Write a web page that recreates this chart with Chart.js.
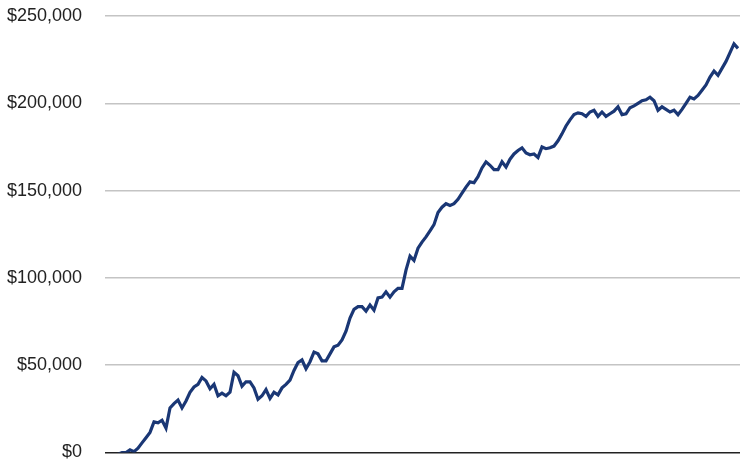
<!DOCTYPE html>
<html>
<head>
<meta charset="utf-8">
<script src="https://cdn.jsdelivr.net/npm/chart.js@4"></script>
<style>
  html, body { margin: 0; padding: 0; background: #fff; }
  #wrap { width: 749px; height: 476px; }
</style>
</head>
<body>
<div id="wrap"><canvas id="myChart"></canvas></div>
<script>
// Balance values, one per period
var balance = [
  -1000, 0, 0, 1500, 500, 2500, 5500, 8500, 11500, 17500,
  17000, 18500, 14000, 25500, 28000, 30000, 25500, 29500, 34500, 37500,
  39000, 43000, 41000, 36500, 39000, 32500, 34000, 32500, 34500, 46000,
  44000, 38000, 40500, 40500, 37000, 30500, 32500, 36000, 31000, 34500,
  33000, 37000, 39000, 41500, 47000, 51500, 53000, 48000, 52000, 57500,
  56500, 52500, 52500, 56500, 60500, 61500, 64500, 69500, 77000, 82000,
  83500, 83500, 81000, 84500, 81500, 88500, 89000, 92000, 89000, 92000,
  94000, 94000, 104500, 112500, 110000, 117000, 120500, 123500, 127000, 130500,
  137500, 140500, 142500, 141500, 142500, 145000, 148500, 152000, 155000, 154500,
  158000, 163000, 166500, 164500, 162000, 162000, 166500, 163500, 168000, 171000,
  173000, 174500, 171500, 170500, 171000, 169000, 175000, 174000, 174500, 175500,
  178500, 182500, 187000, 190500, 193500, 194500, 194000, 192500, 195000, 196000,
  192500, 195000, 192500, 194000, 195500, 198000, 193500, 194000, 197500, 198500,
  200000, 201500, 202000, 203500, 201500, 196000, 198000, 196500, 195000, 196000,
  193500, 196500, 200000, 203500, 202500, 204500, 207500, 210500, 215000, 218500,
  216000, 220000, 224000, 229000, 234000, 231500
];
// Period numbers (x axis, not labelled in the picture)
var periods = balance.map(function (v, i) { return i; });
// Y axis tick values
var yTicks = [0, 50000, 100000, 150000, 200000, 250000];

var ctx = document.getElementById('myChart').getContext('2d');
var myChart = new Chart(ctx, {
  type: 'line',
  data: {
    datasets: [{
      data: periods.map(function (p, i) { return { x: p, y: balance[i] }; }),
      borderColor: '#1a3775',
      borderWidth: 3.2,
      pointRadius: 0,
      tension: 0,
      fill: false
    }]
  },
  options: {
    responsive: true,
    maintainAspectRatio: false,
    animation: false,
    layout: { padding: { top: 16, right: 9, bottom: 23.5, left: 0 } },
    plugins: { legend: { display: false }, tooltip: { enabled: false } },
    scales: {
      x: {
        type: 'linear',
        display: false,
        min: -3.25,
        max: 155.5
      },
      y: {
        min: 0,
        max: 250000,
        afterBuildTicks: function (axis) {
          axis.ticks = yTicks.map(function (v) { return { value: v }; });
        },
        afterFit: function (axis) {
          // fixed label column, no extra overhang above/below
          axis.width = 105;
          axis.paddingTop = 0;
          axis.paddingBottom = 0;
        },
        border: { display: false },
        grid: {
          drawTicks: false,
          lineWidth: 1.5,
          color: function (c) { return c.tick && c.tick.value === 0 ? '#222' : '#c4c4c4'; }
        },
        ticks: {
          padding: 23,
          color: '#222',
          font: { family: 'Liberation Sans', size: 18 },
          callback: function (v) { return '$' + v.toLocaleString('en-US'); }
        }
      }
    }
  }
});
</script>
</body>
</html>
